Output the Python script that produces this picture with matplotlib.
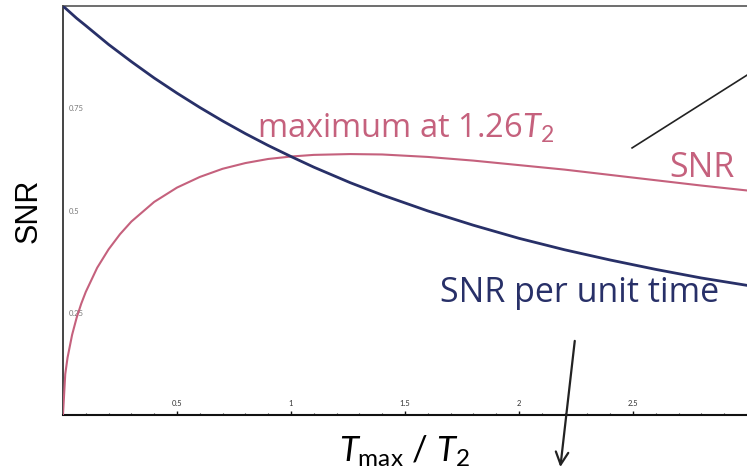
"""
SNR vs acquisition time: SNR and SNR per unit time against Tmax / T2.
"""

import matplotlib
matplotlib.use("Agg")
import matplotlib.pyplot as plt
from matplotlib.ticker import MultipleLocator

plt.rcParams["font.family"] = ["Lato", "DejaVu Sans"]
plt.rcParams["mathtext.fontset"] = "custom"
plt.rcParams["mathtext.rm"] = "Lato"
plt.rcParams["mathtext.it"] = "Lato:italic"

# values
t_ratio = [0, 0.01, 0.02, 0.04, 0.06, 0.08, 0.1, 0.15, 0.2, 0.25, 0.3, 0.4,
           0.5, 0.6, 0.7, 0.8, 0.9, 1.0, 1.1, 1.26, 1.4, 1.6, 1.8, 2.0, 2.2,
           2.4, 2.6, 2.8, 3.0]
snr = [0, 0.100, 0.140, 0.196, 0.238, 0.272, 0.301, 0.360, 0.405, 0.442,
       0.473, 0.521, 0.556, 0.582, 0.602, 0.616, 0.626, 0.632, 0.636, 0.638,
       0.637, 0.631, 0.622, 0.611, 0.600, 0.587, 0.574, 0.561, 0.549]
snr_per_time = [1.0, 0.995, 0.990, 0.980, 0.970, 0.961, 0.952, 0.929, 0.906,
                0.885, 0.864, 0.824, 0.787, 0.752, 0.719, 0.688, 0.659, 0.632,
                0.606, 0.568, 0.538, 0.499, 0.464, 0.432, 0.404, 0.379, 0.356,
                0.335, 0.317]
x_ticks = [0.5, 1, 1.5, 2, 2.5]
x_tick_labels = ["0.5", "1", "1.5", "2", "2.5"]
y_ticks = [0.25, 0.5, 0.75]
y_tick_labels = ["0.25", "0.5", "0.75"]

PINK = "#c5617d"
NAVY = "#283068"
ANNOT_FONT = ["Open Sans", "DejaVu Sans"]

fig = plt.figure(figsize=(7.47, 4.73), dpi=100)
ax = fig.add_axes([0.0843, 0.1226, 0.9157, 0.8647])

ax.plot(t_ratio, snr, color=PINK, lw=1.5, zorder=3)
ax.plot(t_ratio, snr_per_time, color=NAVY, lw=2.0, zorder=4)

ax.set_xlim(0, 3)
ax.set_ylim(0, 1)

# spines
ax.spines["right"].set_visible(False)
ax.spines["top"].set_color("#555555")
ax.spines["top"].set_linewidth(1.2)
ax.spines["left"].set_color("#444444")
ax.spines["left"].set_linewidth(1.4)
ax.spines["bottom"].set_color("#111111")
ax.spines["bottom"].set_linewidth(1.5)

# tiny tick labels sitting inside the axes
ax.set_xticks(x_ticks)
ax.set_xticklabels(x_tick_labels)
ax.xaxis.set_minor_locator(MultipleLocator(0.1))
ax.tick_params(axis="x", which="major", direction="in", length=3, width=1,
               pad=-11, labelsize=5.5, labelcolor="#333333", color="#111111")
ax.tick_params(axis="x", which="minor", direction="in", length=1.5, width=0.8,
               color="#333333")
ax.set_yticks(y_ticks)
ax.set_yticklabels(y_tick_labels)
ax.tick_params(axis="y", length=0, pad=-4, labelsize=5.5, labelcolor="#777777")
plt.setp(ax.get_yticklabels(), ha="left")

ax.set_xlabel(r"$T_{\rm max}$ / $T_2$", fontsize=25, labelpad=10)
ax.set_ylabel("SNR", fontsize=22, family=["Liberation Sans", "DejaVu Sans"],
              labelpad=14)

# annotations
ax.text(0.851, 0.677, r"maximum at 1.26$T_2$", color=PINK, fontsize=23.5,
        va="baseline", ha="left", family=ANNOT_FONT)
ax.text(2.658, 0.582, "SNR", color=PINK, fontsize=24.5, va="baseline",
        ha="left", family=ANNOT_FONT)
ax.text(1.654, 0.276, "SNR per unit time", color=NAVY, fontsize=24.5,
        va="baseline", ha="left", family=ANNOT_FONT)

ax.plot([2.496, 3.0], [0.653, 0.831], color="#222222", lw=1.2, clip_on=False)
ax.annotate("", xy=(2.18, -0.134), xytext=(2.246, 0.188),
            arrowprops=dict(arrowstyle="->,head_length=0.9,head_width=0.45",
                            color="#222222", lw=1.6),
            annotation_clip=False)

fig.savefig("out.png", dpi=100)
